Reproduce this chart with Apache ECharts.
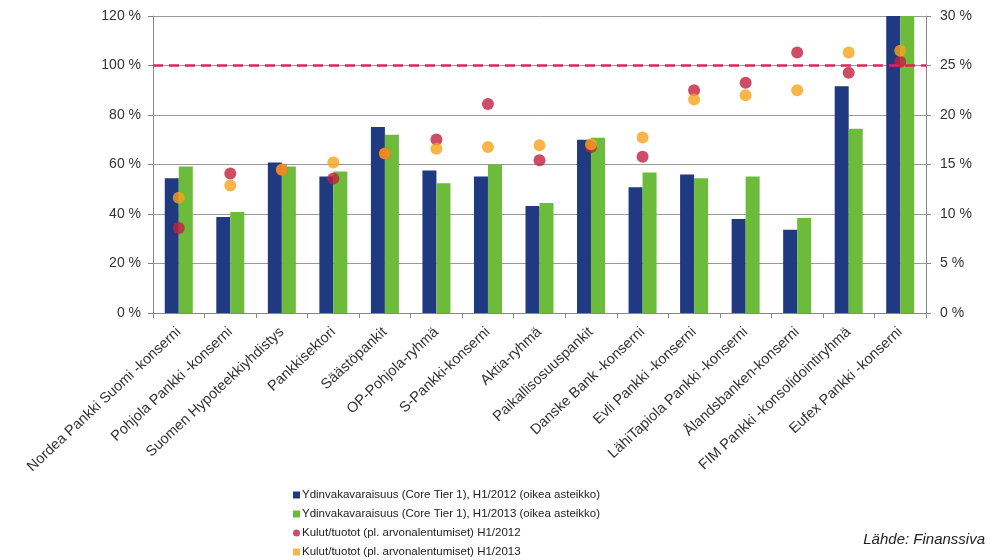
<!DOCTYPE html>
<html>
<head>
<meta charset="utf-8">
<script src="https://cdn.jsdelivr.net/npm/echarts@6/dist/echarts.min.js"></script>
<style>
html, body { margin: 0; padding: 0; background: #fff; }
#chart { width: 990px; height: 560px; }
</style>
</head>
<body>
<div id="chart"></div>
<script>
var banks = ["Nordea Pankki Suomi -konserni", "Pohjola Pankki -konserni", "Suomen Hypoteekkiyhdistys", "Pankkisektori", "Säästöpankit", "OP-Pohjola-ryhmä", "S-Pankki-konserni", "Aktia-ryhmä", "Paikallisosuuspankit", "Danske Bank -konserni", "Evli Pankki -konserni", "LähiTapiola Pankki -konserni", "Ålandsbanken-konserni", "FIM Pankki -konsolidointiryhmä", "Eufex Pankki -konserni"];

// Ydinvakavaraisuus (right axis, %)
var tier1_2012 = [13.6, 9.7, 15.2, 13.8, 18.8, 14.4, 13.8, 10.8, 17.5, 12.7, 14.0, 9.5, 8.4, 22.9, 30];
var tier1_2013 = [14.8, 10.2, 14.8, 14.3, 18.0, 13.1, 15.0, 11.1, 17.7, 14.2, 13.6, 13.8, 9.6, 18.6, 30];

// Kulut/tuotot (left axis, %)
var costIncome_2012 = [34.3, 56.4, 58.0, 54.3, 64.4, 70.1, 84.4, 61.7, 67.1, 63.1, 90.0, 93.0, 105.3, 97.1, 101.5];
var costIncome_2013 = [46.6, 51.5, 57.9, 60.8, 64.4, 66.4, 67.1, 67.8, 68.2, 70.9, 86.3, 88.0, 90.0, 105.3, 106.0];

var leftTicks = [0, 20, 40, 60, 80, 100, 120];
var rightTicks = [0, 5, 10, 15, 20, 25, 30];

var names = [
    "Ydinvakavaraisuus (Core Tier 1), H1/2012 (oikea asteikko)",
    "Ydinvakavaraisuus (Core Tier 1), H1/2013 (oikea asteikko)",
    "Kulut/tuotot (pl. arvonalentumiset) H1/2012",
    "Kulut/tuotot (pl. arvonalentumiset) H1/2013"
];

var font = "'Liberation Sans', Arial, sans-serif";
var myChart = echarts.init(document.getElementById('chart'));

var option = {
    animation: false,
    textStyle: { fontFamily: font },
    color: ['#1f3a80', '#6dbb3a', '#c21f3e', '#f8a31c'],
    grid: { left: 153, right: 64, top: 16, bottom: 247 },
    legend: {
        orient: 'vertical',
        left: 293,
        top: 488,
        padding: 0,
        itemWidth: 7,
        itemHeight: 7,
        itemGap: 5,
        textStyle: { fontSize: 11.5, lineHeight: 14, color: '#222', fontFamily: font, padding: [0, 0, 0, -3] },
        data: [
            { name: names[0], icon: 'rect' },
            { name: names[1], icon: 'rect' },
            { name: names[2], icon: 'circle' },
            { name: names[3], icon: 'rect' }
        ]
    },
    xAxis: {
        type: 'category',
        data: banks,
        axisLine: { lineStyle: { color: '#888' } },
        axisTick: { show: true, length: 5, lineStyle: { color: '#888' } },
        axisLabel: { rotate: 43, fontSize: 14.5, color: '#333', margin: 17, interval: 0 }
    },
    yAxis: [{
        type: 'value',
        min: 0, max: 120, interval: 20,
        position: 'left',
        axisLine: { show: true, lineStyle: { color: '#888' } },
        axisTick: { show: true, length: 5, lineStyle: { color: '#888' } },
        axisLabel: { fontSize: 14, color: '#333', margin: 12, formatter: function (v) {
            return leftTicks.indexOf(v) >= 0 ? v + ' %' : '';
        } },
        splitLine: { show: true, lineStyle: { color: '#999', width: 1 } }
    }, {
        type: 'value',
        min: 0, max: 30, interval: 5,
        position: 'right',
        axisLine: { show: true, lineStyle: { color: '#888' } },
        axisTick: { show: true, length: 5, lineStyle: { color: '#888' } },
        axisLabel: { fontSize: 14, color: '#333', margin: 14, formatter: function (v) {
            return rightTicks.indexOf(v) >= 0 ? v + ' %' : '';
        } },
        splitLine: { show: false }
    }],
    series: [{
        name: names[0],
        type: 'bar',
        yAxisIndex: 1,
        data: tier1_2012,
        barWidth: 14,
        barGap: '0%'
    }, {
        name: names[1],
        type: 'bar',
        yAxisIndex: 1,
        data: tier1_2013,
        barWidth: 14,
        barGap: '0%'
    }, {
        name: names[2],
        type: 'scatter',
        yAxisIndex: 0,
        data: costIncome_2012,
        symbolSize: 12,
        z: 3,
        markLine: {
            silent: true,
            symbol: 'none',
            label: { show: false },
            lineStyle: { color: '#e8205a', type: [10, 6], width: 2.5 },
            data: [{ yAxis: 100 }]
        }
    }, {
        name: names[3],
        type: 'scatter',
        yAxisIndex: 0,
        data: costIncome_2013,
        symbolSize: 12,
        z: 4
    }],
    graphic: [{
        type: 'text',
        right: 5,
        top: 532,
        style: { text: 'Lähde: Finanssiva', font: 'italic 15px ' + font, fill: '#222' }
    }]
};

myChart.setOption(option);
</script>
</body>
</html>
